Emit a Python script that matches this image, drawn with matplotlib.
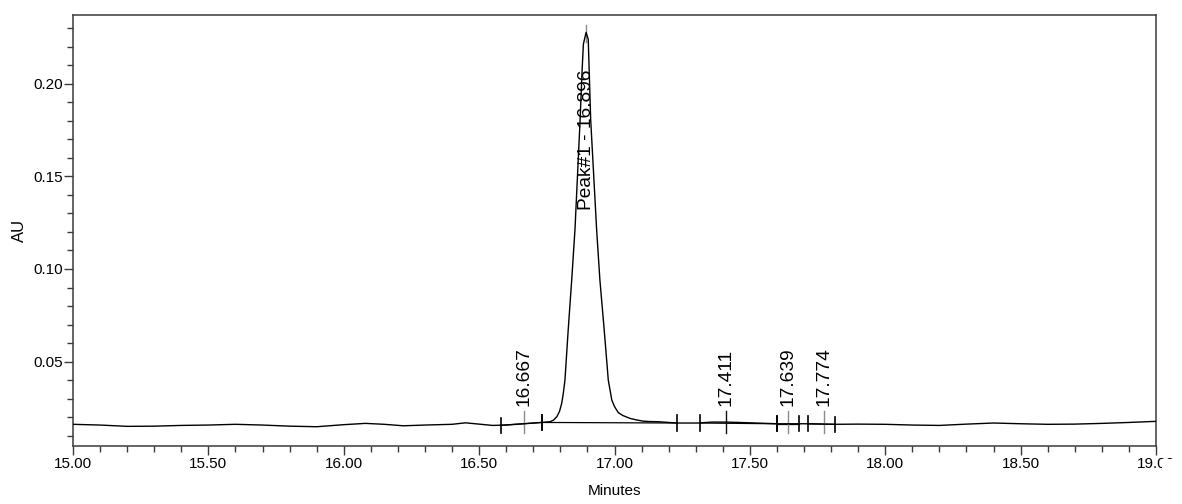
import matplotlib
matplotlib.use('Agg')
import matplotlib.pyplot as plt
from matplotlib.ticker import MultipleLocator, FormatStrFormatter
from matplotlib.patches import Rectangle

plt.rcParams['font.family'] = ['Liberation Sans', 'DejaVu Sans']

# chromatogram trace (minutes, AU)
time_min = [15.00, 15.10, 15.20, 15.30, 15.40, 15.50, 15.60, 15.70, 15.80, 15.90,
            16.00, 16.08, 16.15, 16.22, 16.30, 16.40, 16.45, 16.50, 16.55, 16.60,
            16.667, 16.73, 16.762, 16.775, 16.787, 16.797, 16.805, 16.811, 16.817,
            16.829, 16.842, 16.854, 16.873, 16.880, 16.885, 16.895, 16.903, 16.912,
            16.934, 16.946, 16.962, 16.977, 16.990, 17.000, 17.014, 17.030, 17.057,
            17.080, 17.106, 17.130, 17.162, 17.200, 17.231, 17.310, 17.360, 17.410,
            17.460, 17.520, 17.600, 17.700, 17.810, 17.900, 18.00, 18.10, 18.20,
            18.30, 18.40, 18.50, 18.60, 18.70, 18.80, 18.90, 19.00]
absorbance = [0.0162, 0.0158, 0.0151, 0.0152, 0.0156, 0.0158, 0.0162, 0.0158, 0.0152, 0.0149,
              0.0160, 0.0167, 0.0162, 0.0154, 0.0158, 0.0162, 0.0170, 0.0163, 0.0156, 0.0158,
              0.0165, 0.0172, 0.0176, 0.0185, 0.0203, 0.0232, 0.0275, 0.0330, 0.0401,
              0.0671, 0.0942, 0.1212, 0.1806, 0.2060, 0.2212, 0.2276, 0.2239, 0.1806,
              0.1212, 0.0942, 0.0671, 0.0401, 0.0293, 0.0258, 0.0225, 0.0210, 0.0194,
              0.0186, 0.0179, 0.0177, 0.0176, 0.0172, 0.0169, 0.0169, 0.0174, 0.0174,
              0.0172, 0.0169, 0.0165, 0.0165, 0.0162, 0.0163, 0.0162, 0.0158, 0.0156,
              0.0163, 0.0169, 0.0165, 0.0162, 0.0163, 0.0167, 0.0172, 0.0178]

# peak annotations
peak_rt = [16.667, 16.896, 17.411, 17.639, 17.774]
peak_labels = ['16.667', 'Peak#1 - 16.896', '17.411', '17.639', '17.774']
label_base_au = [0.0260, 0.1320, 0.0260, 0.0260, 0.0260]
rt_line_lo = [0.0113, 0.2225, 0.0113, 0.0113, 0.0113]
rt_line_hi = [0.0232, 0.2315, 0.0232, 0.0232, 0.0232]
rt_line_color = ['#8a8a8a', '#8a8a8a', '#111111', '#8a8a8a', '#8a8a8a']

# integration start / end points
int_start = [16.581, 16.731, 17.316, 17.599, 17.716]
int_start_au = [0.0157, 0.0172, 0.0169, 0.0165, 0.0165]
int_end = [16.731, 17.232, 17.599, 17.683, 17.815]
int_end_au = [0.0172, 0.0169, 0.0165, 0.0165, 0.0162]

W, H = 1182, 504
fig = plt.figure(figsize=(W / 100, H / 100), dpi=100)
ax = fig.add_axes([73 / W, (H - 446) / H, (1156 - 73) / W, (446 - 15) / H])

ax.plot(time_min, absorbance, color='black', lw=1.0, zorder=3)

# baselines between integration marks
for xs, ys, xe, ye in zip(int_start, int_start_au, int_end, int_end_au):
    ax.plot([xs, xe], [ys, ye], color='black', lw=0.9, zorder=2)

# integration tick marks
half = 0.0041
for xs, ys in list(zip(int_start, int_start_au)) + list(zip(int_end, int_end_au)):
    ax.plot([xs, xs], [ys - half, ys + half], color='black', lw=1.2, zorder=4)

# retention-time lines and labels
for rt, lab, yb, lo, hi, c in zip(peak_rt, peak_labels, label_base_au, rt_line_lo, rt_line_hi, rt_line_color):
    ax.plot([rt, rt], [lo, hi], color=c, lw=1.0, zorder=2)
    ax.text(rt, yb, lab, rotation=90, ha='center', va='bottom', fontsize=13.8, color='black', zorder=5)

ax.set_xlim(15.0, 19.0)
ax.set_ylim(0.0045, 0.237)
ax.xaxis.set_major_locator(MultipleLocator(0.5))
ax.xaxis.set_minor_locator(MultipleLocator(0.1))
ax.yaxis.set_major_locator(MultipleLocator(0.05))
ax.yaxis.set_minor_locator(MultipleLocator(0.01))
ax.xaxis.set_major_formatter(FormatStrFormatter('%.2f'))
ax.yaxis.set_major_formatter(FormatStrFormatter('%.2f'))

for s in ax.spines.values():
    s.set_color('#3a3a3a')
    s.set_linewidth(1.1)
ax.tick_params(which='major', length=6.5, width=1.0, color='#3a3a3a', labelsize=11, pad=1.5)
ax.tick_params(which='minor', length=4.3, width=1.0, color='#3a3a3a')
ax.tick_params(axis='y', which='major', pad=0.5)

ax.set_xlabel('Minutes', fontsize=11, labelpad=9)
ax.set_ylabel('AU', fontsize=12, labelpad=5)

# the right-most tick label is cut off in the original export
fig.add_artist(Rectangle((1162 / W, 0), (W - 1162) / W, 0.09, transform=fig.transFigure,
                         facecolor='white', edgecolor='none', zorder=10))

fig.savefig('out.png', dpi=100)
